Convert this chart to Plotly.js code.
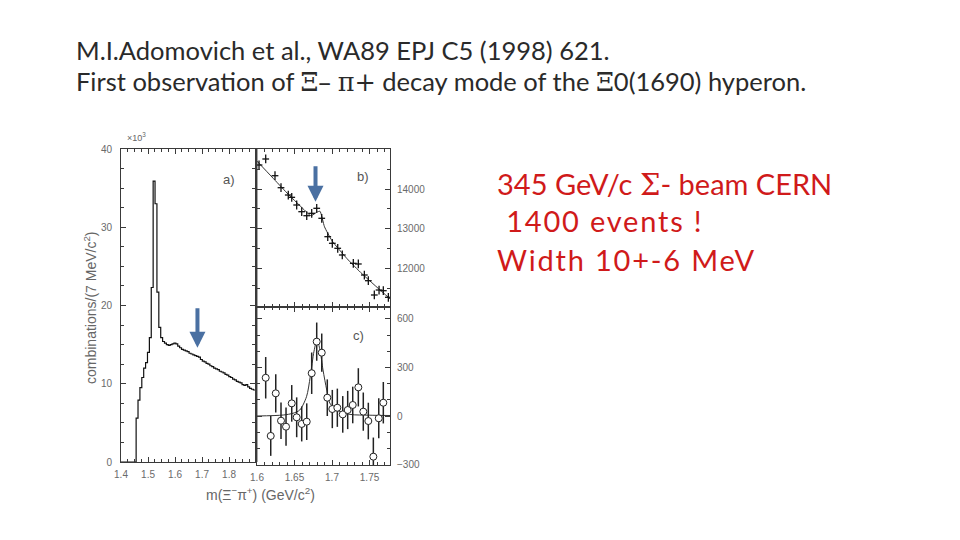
<!DOCTYPE html>
<html><head><meta charset="utf-8">
<script src="https://cdn.plot.ly/plotly-3.0.1.min.js"></script>
<style>html,body{margin:0;padding:0;background:#fff}#chart{width:960px;height:540px}</style>
</head><body><div id="chart"></div>
<script>
// ---- Panel a: m(Xi- pi+) histogram, 7 MeV bins starting at 1.400 GeV (counts in units of 10^3)
const aMassLow = 1.4;
const aBinWidth = 0.007;
const aCounts = [0,0,0,0,0,0,0,0,
  5.6,7.9,9.5,10.8,12.0,12.7,14.0,15.9,22.3,
  35.9,33.0,21.7,17.2,15.9,
  15.4,15.2,15.0,14.9,15.0,15.1,15.2,15.1,14.8,14.6,
  14.4,14.3,14.2,14.1,13.9,13.8,13.7,13.6,13.5,13.4,
  13.1,12.9,12.8,12.6,12.5,12.3,12.2,12.0,11.9,11.8,
  11.6,11.5,11.4,11.2,11.1,10.9,10.8,10.6,10.5,10.3,
  10.2,10.1,9.9,9.8,9.9,9.6,9.4,9.3,9.2];
const aTickVals = [1.4,1.5,1.6,1.7,1.8];
const aTickText = ['1.4','1.5','1.6','1.7','1.8'];
const aYTickVals = [0,10,20,30,40];

// ---- Panel b: zoom on 1.6-1.78 GeV, raw combinations
const bMass = [1.6027,1.6116,1.624,1.632,1.6417,1.6463,1.6529,1.6596,1.6663,1.6729,1.6796,1.6863,
  1.6943,1.7004,1.7076,1.7137,1.7284,1.7351,1.7431,1.7484,1.7564,1.7627,1.7684,1.7751];
const bCounts = [14603,14754,14334,14033,13849,13791,13598,13430,13329,13389,13515,13264,
  12802,12636,12510,12342,12133,12116,11839,11696,11337,11462,11445,11279];
const bFitMass = [1.6,1.62,1.64,1.66,1.672,1.68,1.684,1.69,1.70,1.72,1.74,1.76,1.778];
const bFitCounts = [14700,14300,13900,13530,13330,13420,13440,13050,12700,12250,11870,11530,11230];
const bYTickVals = [12000,13000,14000];

// ---- Panel c: background subtracted
const cMass = [1.6116,1.6183,1.625,1.632,1.6387,1.6463,1.6529,1.6596,1.6663,1.6729,1.6796,1.6863,
  1.6937,1.7004,1.7071,1.7143,1.7209,1.7276,1.7351,1.7417,1.7484,1.7551,1.7623,1.7684];
const cCounts = [236,-123,140,-29,-66,78,-8,-49,-35,264,459,391,113,43,51,10,37,68,177,27,-31,-251,-14,82];
const cErrors = [128,123,118,113,118,113,123,108,113,128,118,118,113,118,118,113,118,113,118,118,113,118,123,128];
const cFitMass = [1.600,1.635,1.648,1.657,1.666,1.671,1.676,1.680,1.684,1.688,1.693,1.697,1.706,1.724,1.750,1.778];
const cFitCounts = [0,6,17,37,119,243,400,469,407,284,160,80,37,10,5,3];
const cXTickVals = [1.6,1.65,1.7,1.75];
const cXTickText = ['1.6','1.65','1.7','1.75'];
const cYTickVals = [-300,0,300,600];

// ---- build histogram edges
const aEdges = [], aStep = [];
for (let i = 0; i < aCounts.length; i++) { aEdges.push(aMassLow + i * aBinWidth); aStep.push(aCounts[i]); }
aEdges.push(aMassLow + aCounts.length * aBinWidth); aStep.push(aCounts[aCounts.length - 1]);

const W = 960, H = 540;
const fx = p => p / W, fy = p => 1 - p / H;
const figFont = 'Liberation Sans, Arial, sans-serif';
const tickFont = {family: figFont, size: 10, color: '#6a6a6a'};
const lineCol = '#3a3a3a';

const common = {showline: true, linecolor: lineCol, linewidth: 1, mirror: 'allticks', ticks: 'inside',
  tickcolor: lineCol, ticklen: 5, showgrid: false, zeroline: false, tickfont: tickFont};

const bPxPerUnit = 39.8 / 1000;
const bRange = [14000 - (307 - 189) / bPxPerUnit, 14000 + (189 - 149) / bPxPerUnit];
const cPxPerUnit = 0.162;
const cRange = [-(465 - 416) / cPxPerUnit, (416 - 307) / cPxPerUnit];

const traces = [
  {x: aEdges, y: aStep, mode: 'lines', line: {shape: 'hv', color: '#111', width: 1.2}, xaxis: 'x', yaxis: 'y', hoverinfo: 'skip'},
  {x: bFitMass, y: bFitCounts, mode: 'lines', line: {shape: 'spline', smoothing: 0.5, color: '#333', width: 1}, xaxis: 'x2', yaxis: 'y2'},
  {x: bMass, y: bCounts, mode: 'markers', marker: {size: 2, color: 'rgba(0,0,0,0)'},
    error_x: {type: 'constant', value: 0.0045, width: 0, thickness: 1.3, color: '#111'},
    error_y: {type: 'constant', value: 110, width: 0, thickness: 1.3, color: '#111'}, xaxis: 'x2', yaxis: 'y2'},
  {x: cFitMass, y: cFitCounts, mode: 'lines', line: {shape: 'spline', smoothing: 0.8, color: '#333', width: 1}, xaxis: 'x3', yaxis: 'y3'},
  {x: cMass, y: cCounts, mode: 'markers', marker: {symbol: 'circle', size: 7, color: '#fff', line: {color: '#222', width: 1}},
    error_y: {type: 'data', array: cErrors, width: 0, thickness: 1.5, color: '#222'}, xaxis: 'x3', yaxis: 'y3'}
];

function label(x, y, text, font, extra) {
  return Object.assign({xref: 'paper', yref: 'paper', x: fx(x), y: fy(y), xanchor: 'center', yanchor: 'middle',
    showarrow: false, text: text, font: font}, extra || {});
}
const titleFont = {family: 'Lato', size: 25.5, color: '#2a2a2a'};
const redFont = {family: 'Lato', size: 29, color: '#d01a1a'};
const greek = s => '<span style="font-family:DejaVu Serif">' + s + '</span>';
const spaced = (s, px) => '<span style="letter-spacing:' + px + 'px">' + s + '</span>';

const layout = {
  width: W, height: H, margin: {l: 0, r: 0, t: 0, b: 0}, showlegend: false,
  paper_bgcolor: '#fff', plot_bgcolor: '#fff',
  xaxis: Object.assign({}, common, {domain: [fx(121), fx(255)], range: [1.4, 1.896], anchor: 'y',
    tickmode: 'array', tickvals: aTickVals, ticktext: aTickText, ticklabelstandoff: 3,
    minor: {tickmode: 'linear', tick0: 1.4, dtick: 0.025, ticklen: 3, ticks: 'inside', tickcolor: lineCol}}),
  yaxis: Object.assign({}, common, {domain: [fy(462), fy(149)], range: [0, 40], anchor: 'x',
    tickmode: 'array', tickvals: aYTickVals, ticklabelstandoff: 6,
    minor: {tickmode: 'linear', tick0: 0, dtick: 2.5, ticklen: 3, ticks: 'inside', tickcolor: lineCol}}),
  xaxis2: Object.assign({}, common, {domain: [fx(257), fx(390)], range: [1.6, 1.7773], anchor: 'y2',
    showticklabels: false, tickmode: 'linear', tick0: 1.6, dtick: 0.05,
    minor: {tickmode: 'linear', tick0: 1.6, dtick: 0.01, ticklen: 3, ticks: 'inside', tickcolor: lineCol}}),
  yaxis2: Object.assign({}, common, {domain: [fy(307), fy(149)], range: bRange, anchor: 'x2', side: 'right',
    tickmode: 'array', tickvals: bYTickVals, tickformat: 'd', ticklabelstandoff: 4,
    minor: {tickmode: 'linear', tick0: 11000, dtick: 500, ticklen: 3, ticks: 'inside', tickcolor: lineCol}}),
  xaxis3: Object.assign({}, common, {domain: [fx(257), fx(390)], range: [1.6, 1.7773], anchor: 'y3',
    tickmode: 'array', tickvals: cXTickVals, ticktext: cXTickText, ticklabelstandoff: 3,
    minor: {tickmode: 'linear', tick0: 1.6, dtick: 0.01, ticklen: 3, ticks: 'inside', tickcolor: lineCol}}),
  yaxis3: Object.assign({}, common, {domain: [fy(465), fy(307)], range: cRange, anchor: 'x3', side: 'right',
    tickmode: 'array', tickvals: cYTickVals, tickformat: 'd', ticklabelstandoff: 4,
    minor: {tickmode: 'linear', tick0: -300, dtick: 100, ticklen: 3, ticks: 'inside', tickcolor: lineCol}}),
  shapes: [
    {type: 'line', xref: 'paper', yref: 'paper', x0: fx(256.5), x1: fx(256.5), y0: fy(462), y1: fy(149),
     line: {color: '#a8a8a8', width: 3}, layer: 'below'}
  ],
  annotations: [
    label(74, 50, 'M.I.Adomovich et al., WA89 EPJ C5 (1998) 621.', titleFont, {xanchor: 'left'}),
    label(74, 81, 'First observation of ' + greek('Ξ–') + ' ' + greek('π+') + ' decay mode of the ' + greek('Ξ') + '0(1690) hyperon.', titleFont, {xanchor: 'left'}),
    label(495, 184, '345 GeV/c ' + greek('Σ') + '- beam CERN', redFont, {xanchor: 'left'}),
    label(495, 221, spaced('\u00a01400 events !', 1.8), redFont, {xanchor: 'left'}),
    label(495, 259, spaced('Width 10+-6 MeV', 1.8), redFont, {xanchor: 'left'}),
    label(229, 180, 'a)', {family: figFont, size: 13, color: '#555'}),
    label(363, 177, 'b)', {family: figFont, size: 13, color: '#555'}),
    label(358, 335, 'c)', {family: figFont, size: 13, color: '#555'}),
    label(136, 137, '×10<sup>3</sup>', {family: figFont, size: 9, color: '#666'}),
    label(90, 308, 'combinations/(7 MeV/c<sup>2</sup>)', {family: figFont, size: 14, color: '#666'}, {textangle: -90}),
    label(260, 494, 'm(Ξ<sup>−</sup>π<sup>+</sup>) (GeV/c<sup>2</sup>)', {family: figFont, size: 14, color: '#666'}),
    {xref: 'x', yref: 'y', x: 1.683, y: 14.6, ax: 0, ay: -41, showarrow: true, text: '', arrowhead: 2, arrowsize: 0.8,
     arrowwidth: 4, arrowcolor: '#4a70a2', standoff: 0},
    {xref: 'x2', yref: 'y2', x: 1.678, y: 13680, ax: 0, ay: -37, showarrow: true, text: '', arrowhead: 2, arrowsize: 0.8,
     arrowwidth: 4, arrowcolor: '#4a70a2', standoff: 0}
  ]
};

Plotly.newPlot('chart', traces, layout, {displayModeBar: false, staticPlot: true});
</script>
</body></html>
